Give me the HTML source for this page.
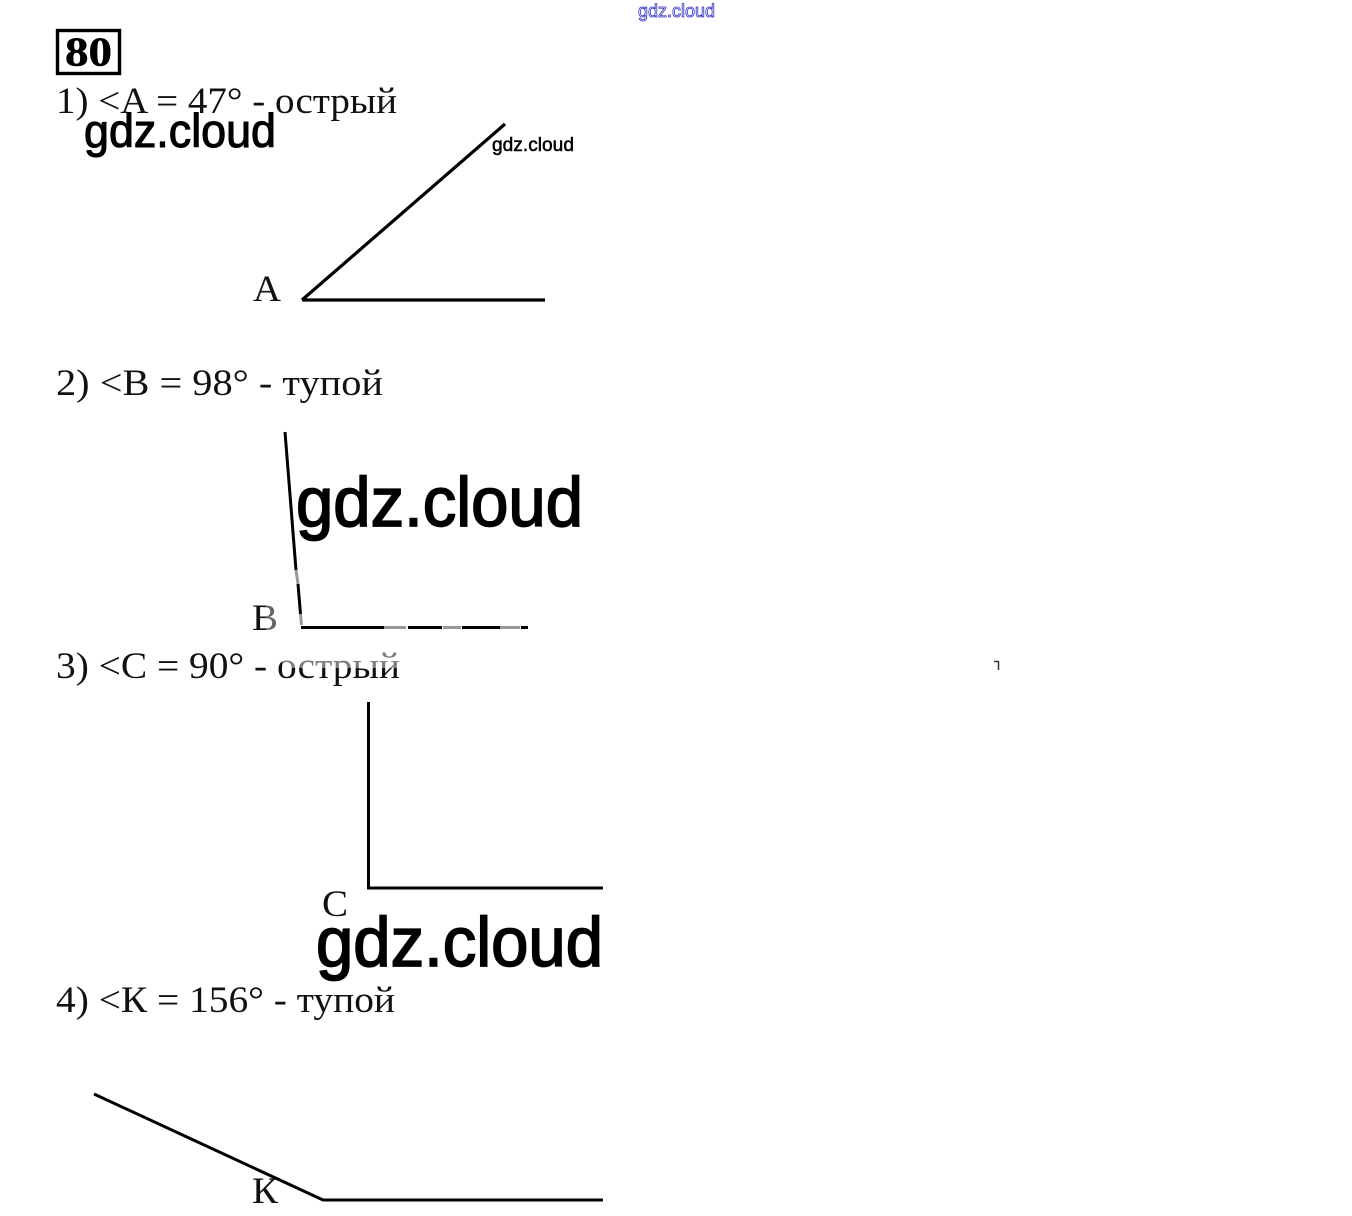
<!DOCTYPE html>
<html>
<head>
<meta charset="utf-8">
<style>
html,body{margin:0;padding:0;background:#fff;width:1352px;height:1216px;overflow:hidden}
svg{display:block}
.s{font-family:"Liberation Serif","Noto Serif CJK SC",serif;font-size:37px;fill:#111}
.w{font-family:"Liberation Sans","DejaVu Sans",sans-serif;fill:#000}
</style>
</head>
<body>
<svg width="1352" height="1216" viewBox="0 0 1352 1216" xmlns="http://www.w3.org/2000/svg">
<rect width="1352" height="1216" fill="#fff"/>

<text x="638" y="17" class="w" font-size="18" textLength="77" lengthAdjust="spacingAndGlyphs" stroke="#3030c8" stroke-width="0.8" style="fill:#fff">gdz.cloud</text>

<rect x="57.5" y="30.500" width="62" height="43" fill="none" stroke="#000" stroke-width="3.400"/>
<text x="65" y="65.500" font-family="Liberation Serif,serif" font-size="41" font-weight="bold" textLength="47" lengthAdjust="spacingAndGlyphs" fill="#000" stroke="#000" stroke-width="0.5">80</text>

<text x="56" y="113" class="s" textLength="341" lengthAdjust="spacingAndGlyphs">1) &lt;A = 47° - острый</text>
<text x="84" y="147" class="w" font-size="47" textLength="192" lengthAdjust="spacingAndGlyphs" stroke="#000" stroke-width="1.100">gdz.cloud</text>
<text x="492" y="151" class="w" font-size="19" textLength="82" lengthAdjust="spacingAndGlyphs" stroke="#000" stroke-width="0.5">gdz.cloud</text>
<text x="253" y="301" class="s" textLength="28" lengthAdjust="spacingAndGlyphs">A</text>
<path d="M302 300 L505 124 M302 300 H545" fill="none" stroke="#000" stroke-width="3.200"/>

<text x="56" y="395" class="s" textLength="327" lengthAdjust="spacingAndGlyphs">2) &lt;B = 98° - тупой</text>
<text x="296" y="526" class="w" font-size="70" textLength="287" lengthAdjust="spacingAndGlyphs" stroke="#000" stroke-width="1.700">gdz.cloud</text>
<text x="252" y="630" class="s" textLength="26" lengthAdjust="spacingAndGlyphs">B</text>
<rect x="266" y="600" width="14" height="32" fill="#fff" opacity="0.35"/>
<path d="M285 432 L296 570" fill="none" stroke="#000" stroke-width="3"/>
<path d="M296 570 L298 584 M300.500 614 L301.500 625" fill="none" stroke="#999" stroke-width="3"/>
<path d="M298 584 L300.500 614" fill="none" stroke="#000" stroke-width="3"/>
<path d="M301 627.500 H384 M408 627.500 H442 M462 627.500 H500 M521 627.500 H528" fill="none" stroke="#000" stroke-width="3"/>
<path d="M384 627.500 H406 M443 627.500 H461 M500 627.500 H520" fill="none" stroke="#999" stroke-width="3"/>

<text x="56" y="678" class="s" textLength="344" lengthAdjust="spacingAndGlyphs">3) &lt;C = 90° - острый</text>
<rect x="282" y="650" width="118" height="18" fill="#fff" opacity="0.45"/>
<path d="M994 661.500 H999 M998.500 661 V670" fill="none" stroke="#333" stroke-width="1.500"/>
<path d="M368.500 702 V888 H603" fill="none" stroke="#000" stroke-width="3"/>
<text x="322" y="916" class="s" textLength="26" lengthAdjust="spacingAndGlyphs">C</text>
<text x="316" y="966" class="w" font-size="70" textLength="287" lengthAdjust="spacingAndGlyphs" stroke="#000" stroke-width="1.700">gdz.cloud</text>

<text x="56" y="1012" class="s" textLength="339" lengthAdjust="spacingAndGlyphs">4) &lt;К = 156° - тупой</text>
<path d="M94 1094 L323 1200 H603" fill="none" stroke="#000" stroke-width="3"/>
<text x="252" y="1203" class="s" textLength="26" lengthAdjust="spacingAndGlyphs">К</text>
</svg>
</body>
</html>
